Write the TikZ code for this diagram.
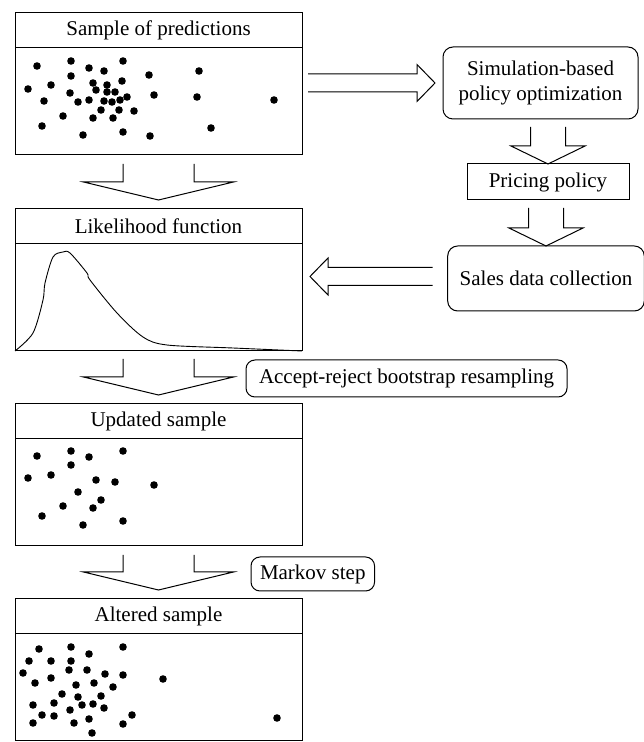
\documentclass[tikz,border=0pt]{standalone}
\usepackage{fontspec}
\setmainfont{Liberation Serif}
\usetikzlibrary{positioning,calc}

% open double-line arrows, drawn between nodes
\newcommand{\hollowdown}[6]{% from, to, gap below from, gap above to, stem half, head half
  \coordinate (hd-s) at ($(#2.north |- #1.south)+(0,-#3)$);
  \coordinate (hd-t) at ($(#2.north)+(0,#4)$);
  \draw (hd-s) ++(-#5,0) |- ($(hd-t)+(-#6,18)$) -- (hd-t) -- ($(hd-t)+(#6,18)$) -| ($(hd-s)+(#5,0)$);}
\newcommand{\hollowside}[2]{% tail, tip
  \coordinate (hs-b) at ($(#2)!18pt!(#1)$);
  \draw ($(#1)+(0,9)$) -- ($(hs-b)+(0,9)$) -- ($(hs-b)+(0,18.5)$) -- (#2)
    -- ($(hs-b)+(0,-18.5)$) -- ($(hs-b)+(0,-9)$) -- ($(#1)+(0,-9)$);}

\begin{document}
\begin{tikzpicture}[x=1pt, y=1pt, line width=1pt,
  every node/.style={font=\fontsize{21}{25}\selectfont},
  panelhead/.style={draw, minimum width=287pt, minimum height=35pt, inner sep=0pt, outer sep=0pt},
  panelbody/.style={draw, minimum width=287pt, minimum height=107pt, inner sep=0pt, outer sep=0pt},
  roundbox/.style={draw, rounded corners=9pt, align=center, inner xsep=12pt, inner ysep=0pt, outer sep=0pt},
  plainbox/.style={draw, inner ysep=0pt, outer sep=0pt},
]
  \useasboundingbox (0,0) rectangle (643,742);

  % Left column: panels
  \node[panelhead] (predhead) at (158.5,711.5) {Sample of predictions};
  \node[panelbody, below=0pt of predhead] (predbody) {};
  \node[panelhead, below=54pt of predbody] (likehead) {Likelihood function};
  \node[panelbody, below=0pt of likehead] (likebody) {};
  \node[panelhead, below=53pt of likebody] (updhead) {Updated sample};
  \node[panelbody, below=0pt of updhead] (updbody) {};
  \node[panelhead, below=53pt of updbody] (althead) {Altered sample};
  \node[panelbody, below=0pt of althead] (altbody) {};

  % Right column
  \node[roundbox, rounded corners=10pt, minimum width=195pt, minimum height=72pt] (sim) at (540.5,659)
    {Simulation-based\\policy optimization};
  \node[plainbox, minimum width=162pt, minimum height=36pt] (pricing) at (548,560) {Pricing policy};
  \node[roundbox, rounded corners=10pt, minimum width=192pt, minimum height=65pt] (sales) at (546,463.5)
    {Sales data collection};

  % Step labels
  \node[roundbox, anchor=west, minimum height=37pt, inner xsep=13pt] (accept) at (246,363.5)
    {Accept-reject bootstrap resampling};
  \node[roundbox, anchor=west, minimum height=34pt, inner xsep=9pt] (markov) at (251,168) {Markov step};

  % Sample points
  \begin{scope}[shift={(predbody.north west)}, y=-1pt]
    \foreach \px/\py in {22/18, 56/13, 74/20, 108/13, 89/23, 56/28, 134/27, 184/23, 36/37, 13/41,
        78/35, 92/37, 107/33, 81/42, 92/44, 100/44, 55/45, 139/47, 182/49, 259/52, 29/53, 63/54,
        74/52, 89/53, 97/54, 105/52, 112/49, 86/62, 104/62, 119/63, 48/68, 78/70, 98/70, 27/78,
        196/80, 68/87, 108/84, 135/88}
      \fill (\px,\py) circle[radius=3.8pt];
  \end{scope}
  \begin{scope}[shift={(updbody.north west)}, y=-1pt]
    \foreach \px/\py in {22/17, 56/12, 74/18, 108/12, 56/26, 36/36, 13/39, 81/41, 100/43, 139/46,
        63/53, 86/61, 48/67, 78/69, 27/77, 68/86, 108/82}
      \fill (\px,\py) circle[radius=3.8pt];
  \end{scope}
  \begin{scope}[shift={(altbody.north west)}, y=-1pt]
    \foreach \px/\py in {24/15, 56/13, 74/20, 108/13, 14/27, 36/27, 56/27, 8/39, 54/36, 72/36,
        90/40, 108/41, 148/45, 20/49, 36/44, 61/51, 79/49, 98/53, 47/60, 63/63, 86/62, 39/69,
        67/71, 78/70, 18/71, 55/76, 89/74, 27/81, 39/82, 74/85, 117/81, 18/89, 59/89, 108/90,
        77/99, 262/84}
      \fill (\px,\py) circle[radius=3.8pt];
  \end{scope}

  % Likelihood curve
  \begin{scope}[shift={(likebody.north west)}, y=-1pt]
    \draw[line width=0.9pt] plot[smooth, tension=0.5] coordinates {(0,107) (18,89) (28,56) (30,39)
      (38,13) (48,8) (55,9) (72,29) (75,36) (102,69) (128,93) (152,101) (218,104) (287,107)};
  \end{scope}

  % Down arrows
  \hollowdown{predbody}{likehead}{9}{9}{35.5}{75}
  \hollowdown{likebody}{updhead}{8}{9}{35.5}{75}
  \hollowdown{updbody}{althead}{9}{9}{35.5}{75}
  \hollowdown{sim}{pricing}{8}{0}{17.5}{37}
  \hollowdown{pricing}{sales}{8}{0}{17.5}{37}

  % Side arrows
  \coordinate (optail) at ($(predbody.east |- sim.west)+(6,0)$);
  \coordinate (optip) at ($(sim.west)+(-8,0)$);
  \hollowside{optail}{optip}
  \coordinate (datatail) at ($(sales.west)+(-15,2)$);
  \coordinate (datatip) at ($(likebody.east |- datatail)+(8,0)$);
  \hollowside{datatail}{datatip}
\end{tikzpicture}
\end{document}
